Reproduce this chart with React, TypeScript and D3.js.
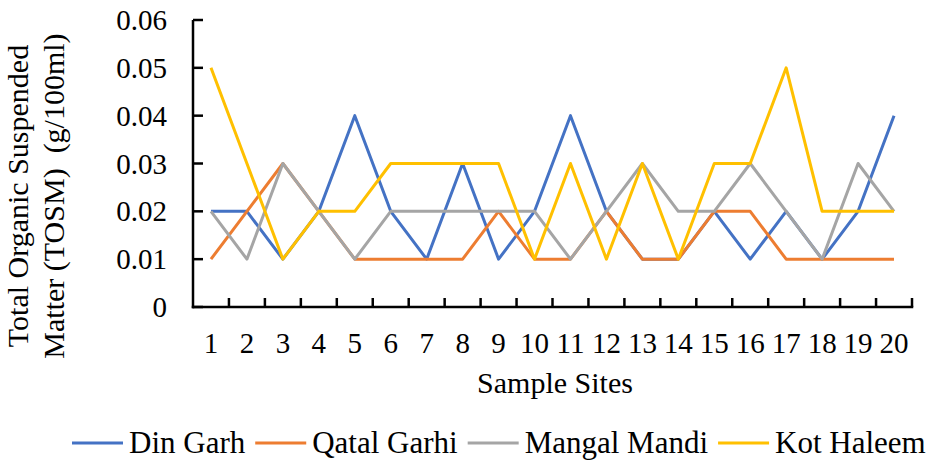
import React from "react";
import * as d3 from "d3";

const sites = d3.range(1, 21).map(String);
const seriesNames = ["Din Garh", "Qatal Garhi", "Mangal Mandi", "Kot Haleem"];
const dinGarh = [0.02, 0.02, 0.01, 0.02, 0.04, 0.02, 0.01, 0.03, 0.01, 0.02, 0.04, 0.02, 0.01, 0.01, 0.02, 0.01, 0.02, 0.01, 0.02, 0.04];
const qatalGarhi = [0.01, 0.02, 0.03, 0.02, 0.01, 0.01, 0.01, 0.01, 0.02, 0.01, 0.01, 0.02, 0.01, 0.01, 0.02, 0.02, 0.01, 0.01, 0.01, 0.01];
const mangalMandi = [0.02, 0.01, 0.03, 0.02, 0.01, 0.02, 0.02, 0.02, 0.02, 0.02, 0.01, 0.02, 0.03, 0.02, 0.02, 0.03, 0.02, 0.01, 0.03, 0.02];
const kotHaleem = [0.05, 0.03, 0.01, 0.02, 0.02, 0.03, 0.03, 0.03, 0.03, 0.01, 0.03, 0.01, 0.03, 0.01, 0.03, 0.03, 0.05, 0.02, 0.02, 0.02];
const yTicks = [0, 0.01, 0.02, 0.03, 0.04, 0.05, 0.06];
const colors = ["#4472C4", "#ED7D31", "#A5A5A5", "#FFC000"];

const W = 938, H = 464;
const left = 193, right = 912, top = 20, bottom = 307;
const FONT = "'Liberation Serif', 'Times New Roman', serif";

export default function App() {
  const x = d3.scaleBand<string>().domain(sites).range([left, right]).paddingInner(0).paddingOuter(0);
  const y = d3.scaleLinear().domain([0, 0.06]).range([bottom, top]);
  const allSeries = [dinGarh, qatalGarhi, mangalMandi, kotHaleem];
  const line = d3
    .line<number>()
    .x((_, i) => (x(sites[i]) as number) + x.bandwidth() / 2)
    .y((d) => y(d));
  const fmt = (d: number) => (d === 0 ? "0" : d3.format(".2f")(d));

  // legend layout
  const legendFont = 31;
  let measure = (s: string) => s.length * 15;
  if (typeof document !== "undefined") {
    const ctx = document.createElement("canvas").getContext("2d");
    if (ctx) {
      ctx.font = `${legendFont}px 'Liberation Serif'`;
      measure = (s: string) => ctx.measureText(s).width;
    }
  }
  const lineLen = 51, gapText = 6, gapItem = 10;
  let cx = 72;
  const legendItems = seriesNames.map((name, i) => {
    const item = { name, color: colors[i], x: cx };
    cx += lineLen + gapText + measure(name) + gapItem;
    return item;
  });

  return (
    <svg width={W} height={H} style={{ position: "absolute", left: 0, top: 0, background: "#fff" }} fontFamily={FONT}>
      {/* y ticks */}
      {yTicks.map((t) => (
        <g key={t}>
          <line x1={left} x2={left + 10} y1={y(t)} y2={y(t)} stroke="#000" strokeWidth={2.5} />
          <text x={167} y={y(t)} dy="0.35em" textAnchor="end" fontSize={29} fill="#000">
            {fmt(t)}
          </text>
        </g>
      ))}
      {/* x ticks */}
      {sites.map((s) => {
        const xe = (x(s) as number) + x.bandwidth();
        return <line key={"t" + s} x1={xe} x2={xe} y1={bottom} y2={bottom - 9} stroke="#000" strokeWidth={2.5} />;
      })}
      {sites.map((s) => (
        <text key={"l" + s} x={(x(s) as number) + x.bandwidth() / 2} y={353} textAnchor="middle" fontSize={29} fill="#000">
          {s}
        </text>
      ))}
      {/* axes */}
      <line x1={left} x2={left} y1={top} y2={bottom + 1.25} stroke="#000" strokeWidth={2.5} />
      <line x1={left - 1.25} x2={right + 1.25} y1={bottom} y2={bottom} stroke="#000" strokeWidth={2.5} />
      {/* series */}
      {allSeries.map((vals, i) => (
        <path key={i} d={line(vals) as string} fill="none" stroke={colors[i]} strokeWidth={3} strokeLinejoin="round" />
      ))}
      {/* axis titles */}
      <text x={555} y={393} textAnchor="middle" fontSize={30} fill="#000">
        Sample Sites
      </text>
      <g transform="translate(0,196) rotate(-90)">
        <text x={0} y={28} textAnchor="middle" fontSize={30} fill="#000">
          Total Organic Suspended
        </text>
        <text x={0} y={64} textAnchor="middle" fontSize={30} fill="#000" style={{ whiteSpace: "pre" }}>
          {"Matter (TOSM)  (g/100ml)"}
        </text>
      </g>
      {/* legend */}
      {legendItems.map((it) => (
        <g key={it.name}>
          <line x1={it.x} x2={it.x + lineLen} y1={443} y2={443} stroke={it.color} strokeWidth={3} />
          <text x={it.x + lineLen + gapText} y={453} fontSize={legendFont} fill="#000">
            {it.name}
          </text>
        </g>
      ))}
    </svg>
  );
}
